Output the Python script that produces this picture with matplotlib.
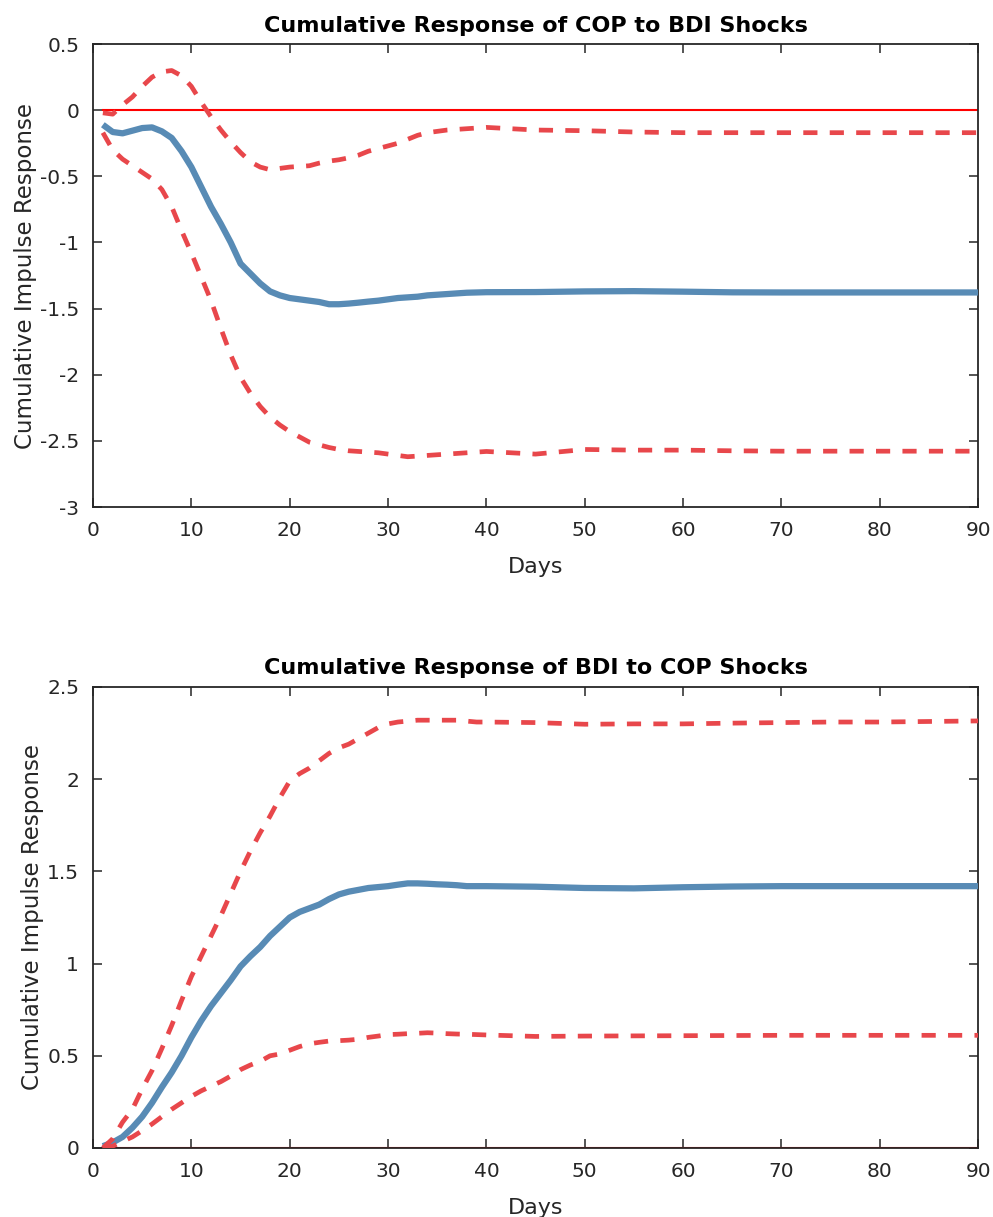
import numpy as np
import matplotlib
matplotlib.use("Agg")
import matplotlib.pyplot as plt

plt.rcParams["font.family"] = ["DejaVu Sans"]
plt.rcParams["axes.unicode_minus"] = False

# days 1..40 daily, then every 5 days
days = list(range(1, 41)) + [45, 50, 55, 60, 65, 70, 75, 80, 85, 90]

# COP response to BDI shocks
cop_irf = [-0.11, -0.165, -0.175, -0.155, -0.135, -0.13, -0.16, -0.21, -0.31, -0.43,
           -0.58, -0.73, -0.86, -1.00, -1.16, -1.235, -1.31, -1.37, -1.40, -1.42,
           -1.43, -1.44, -1.45, -1.467, -1.467, -1.462, -1.455, -1.447, -1.44, -1.43,
           -1.42, -1.415, -1.41, -1.40, -1.395, -1.39, -1.385, -1.38, -1.378, -1.376,
           -1.375, -1.37, -1.368, -1.372, -1.377, -1.378, -1.378, -1.378, -1.378, -1.378]
cop_upper = [-0.02, -0.03, 0.04, 0.10, 0.18, 0.25, 0.29, 0.30, 0.26, 0.18,
             0.06, -0.05, -0.15, -0.24, -0.32, -0.39, -0.43, -0.45, -0.44, -0.43,
             -0.425, -0.42, -0.40, -0.385, -0.375, -0.36, -0.34, -0.31, -0.29, -0.27,
             -0.25, -0.22, -0.19, -0.17, -0.16, -0.15, -0.145, -0.14, -0.135, -0.13,
             -0.15, -0.155, -0.165, -0.17, -0.17, -0.17, -0.17, -0.17, -0.17, -0.17]
cop_lower = [-0.17, -0.30, -0.37, -0.42, -0.47, -0.52, -0.60, -0.73, -0.91, -1.08,
             -1.26, -1.44, -1.65, -1.85, -2.02, -2.14, -2.24, -2.32, -2.38, -2.43,
             -2.47, -2.51, -2.53, -2.55, -2.565, -2.575, -2.58, -2.585, -2.59, -2.60,
             -2.61, -2.62, -2.615, -2.61, -2.605, -2.60, -2.595, -2.59, -2.585, -2.58,
             -2.60, -2.565, -2.57, -2.57, -2.575, -2.578, -2.578, -2.578, -2.578, -2.578]

# BDI response to COP shocks
bdi_irf = [0.01, 0.03, 0.06, 0.11, 0.17, 0.245, 0.33, 0.41, 0.50, 0.60,
           0.69, 0.77, 0.84, 0.91, 0.985, 1.04, 1.09, 1.15, 1.20, 1.25,
           1.28, 1.30, 1.32, 1.35, 1.375, 1.39, 1.40, 1.41, 1.415, 1.42,
           1.428, 1.435, 1.435, 1.433, 1.43, 1.428, 1.425, 1.42, 1.42, 1.42,
           1.417, 1.41, 1.408, 1.414, 1.418, 1.42, 1.42, 1.42, 1.42, 1.42]
bdi_upper = [0.0, 0.05, 0.14, 0.21, 0.32, 0.42, 0.54, 0.665, 0.80, 0.93,
             1.04, 1.15, 1.26, 1.38, 1.50, 1.61, 1.71, 1.80, 1.90, 1.99,
             2.03, 2.06, 2.10, 2.14, 2.17, 2.19, 2.22, 2.25, 2.28, 2.30,
             2.31, 2.315, 2.32, 2.32, 2.32, 2.32, 2.32, 2.315, 2.31, 2.31,
             2.307, 2.298, 2.30, 2.30, 2.304, 2.307, 2.31, 2.31, 2.313, 2.316]
bdi_lower = [0.0, 0.01, 0.036, 0.06, 0.094, 0.13, 0.17, 0.21, 0.245, 0.28,
             0.31, 0.335, 0.36, 0.39, 0.425, 0.45, 0.47, 0.50, 0.51, 0.53,
             0.55, 0.565, 0.573, 0.58, 0.582, 0.585, 0.59, 0.60, 0.607, 0.615,
             0.617, 0.62, 0.622, 0.625, 0.623, 0.62, 0.618, 0.617, 0.615, 0.613,
             0.605, 0.607, 0.608, 0.609, 0.61, 0.611, 0.611, 0.611, 0.611, 0.611]

BLUE = "#588bb5"
RED = "#e8474b"
INK = "#262626"

panels = [
  ("Cumulative Response of COP to BDI Shocks", cop_irf, cop_upper, cop_lower,
   (-3, 0.5), np.arange(-3, 0.51, 0.5), [0.0937, 0.5834, 0.8913, 0.3804]),
  ("Cumulative Response of BDI to COP Shocks", bdi_irf, bdi_upper, bdi_lower,
   (0, 2.5), np.arange(0, 2.51, 0.5), [0.0937, 0.0567, 0.8913, 0.3788]),
]

fig = plt.figure(figsize=(9.93, 12.17), dpi=100)

for title, irf, up, lo, ylim, yticks, rect in panels:
  ax = fig.add_axes(rect)
  ax.plot([days[0], days[-1]], [0, 0], color="#ff0000", lw=1.5, zorder=2)
  ax.plot(days, irf, color=BLUE, lw=4.5, zorder=3, solid_capstyle="butt")
  for band in (up, lo):
    ax.plot(days, band, color=RED, lw=3.4, linestyle=(0, (3.0, 2.6)),
            dash_capstyle="butt", zorder=4)

  ax.set_xlim(0, 90)
  ax.set_ylim(*ylim)
  ax.set_xticks(np.arange(0, 91, 10))
  ax.set_yticks(yticks)
  ax.set_yticklabels(["%g" % t for t in yticks])
  ax.tick_params(direction="in", length=6.5, width=1.1, top=True, right=True,
                 labelsize=14.5, colors=INK, pad=10)
  for s in ax.spines.values():
    s.set_color(INK)
    s.set_linewidth(1.3)
  ax.set_title(title, fontsize=16, fontweight="bold", color="black", pad=9)
  ax.set_xlabel("Days", fontsize=16, color=INK, labelpad=12)
  ax.set_ylabel("Cumulative Impulse Response", fontsize=16.5, color=INK, labelpad=2)

fig.savefig("out.png", dpi=100)
